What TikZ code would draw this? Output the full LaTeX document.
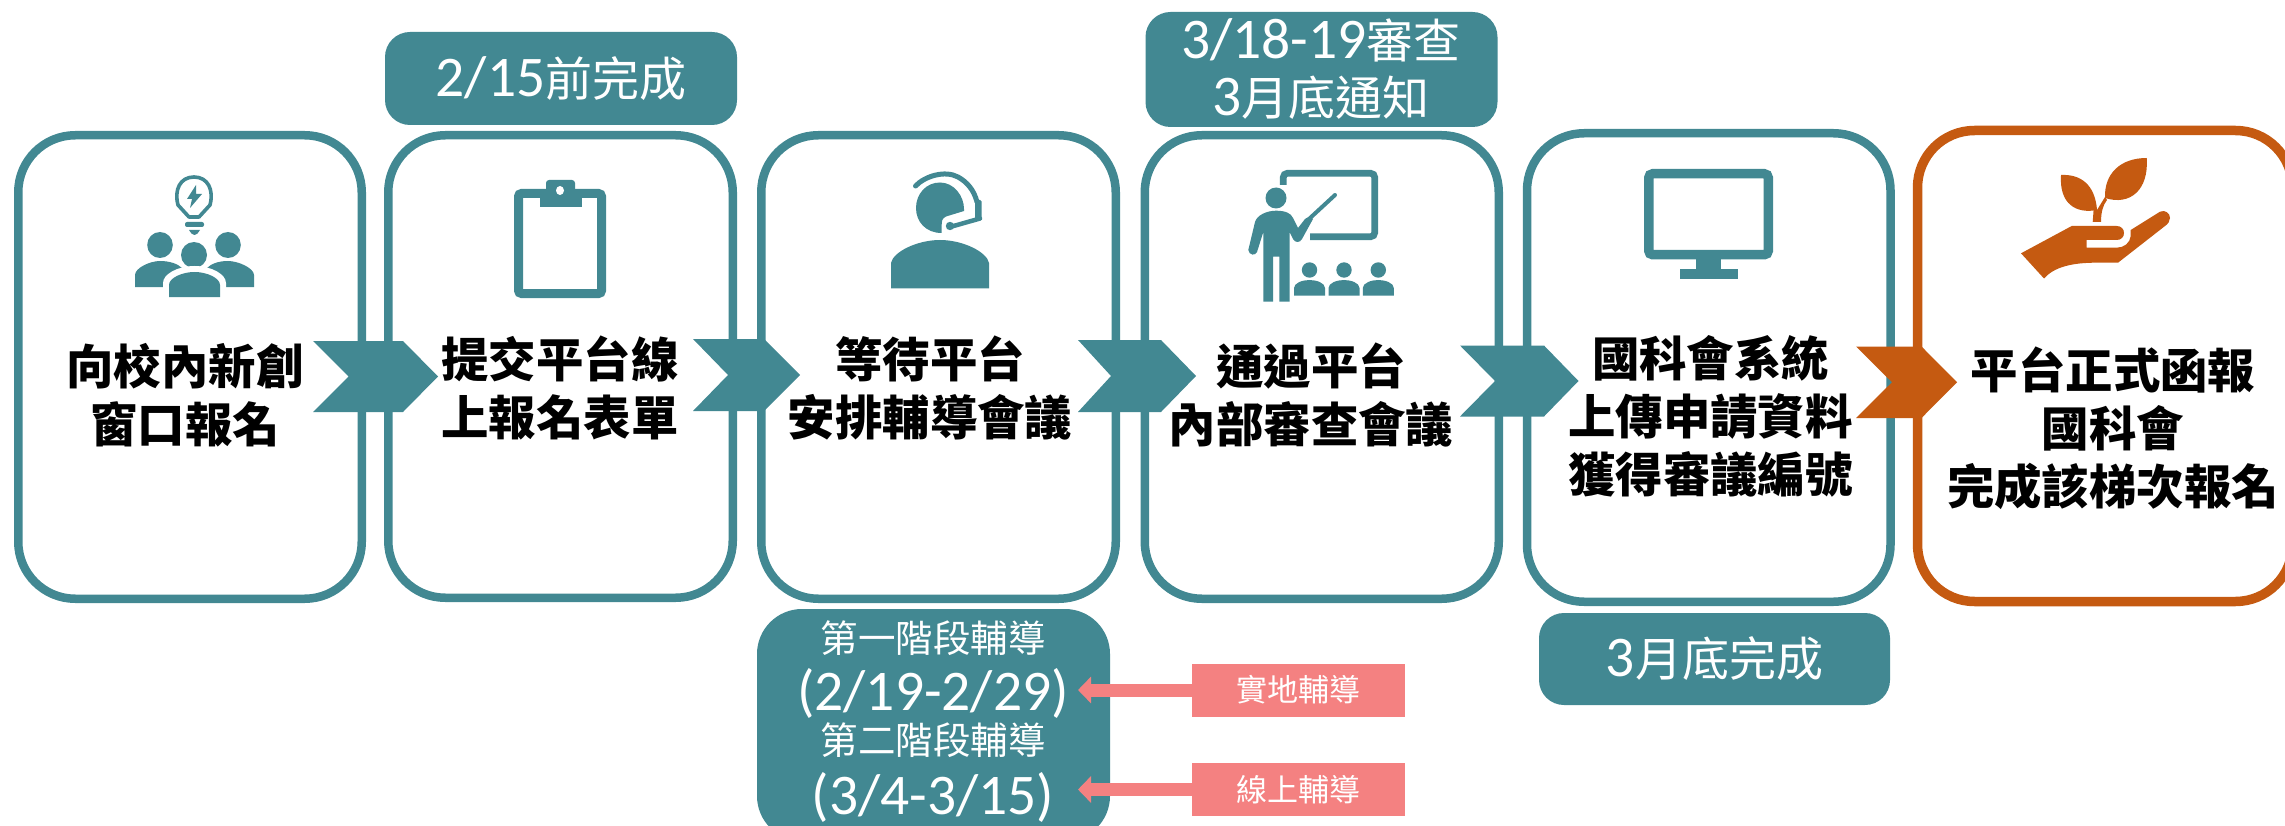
\documentclass[tikz,border=0pt]{standalone}
\usepackage{fontspec}
\setmainfont{Carlito}
\newfontfamily\cjk{Noto Sans CJK TC}
\usetikzlibrary{arrows.meta}
\definecolor{teal1}{HTML}{428892}
\definecolor{orange1}{HTML}{C55A11}
\definecolor{pink1}{HTML}{F48181}
\newcommand{\zhbig}[1]{{\cjk\fontsize{47}{47}\selectfont #1}}
\newcommand{\zhmid}[1]{{\cjk\fontsize{37.5}{37.5}\selectfont #1}}
\tikzset{
  card/.style={draw=teal1,line width=8.5pt,fill=white,rounded corners=57pt,inner sep=0pt,outer sep=0pt},
  cardo/.style={card,draw=orange1,line width=9.5pt},
  tagbox/.style={fill=teal1,rounded corners=25pt,inner sep=0pt,outer sep=0pt,text=white,align=center,font=\fontsize{57.5}{58}\selectfont},
  bigtext/.style={text=black,align=center,inner sep=0pt,font=\cjk\bfseries\fontsize{47.4}{58}\selectfont},
  pinkbox/.style={fill=pink1,inner sep=0pt,outer sep=0pt,text=white,font=\cjk\fontsize{31}{31}\selectfont,minimum width=213pt,minimum height=53pt},
  pinkarrow/.style={draw=pink1,line width=13pt,-{Triangle[width=26pt,length=13pt]}},
  whitetext/.style={text=white,inner sep=0pt},
  icon/.style={fill=teal1,draw=none},
  iconline/.style={draw=teal1,fill=none}
}
% chevron: left x, notch x, shoulder x, tip x, top y, bottom y
\newcommand{\chev}[7]{\fill[#1] (#2,#6) -- (#4,#6) -- (#5,{(#6+#7)/2}) -- (#4,#7) -- (#2,#7) -- (#3,{(#6+#7)/2}) -- cycle;}
\begin{document}
\begin{tikzpicture}[x=1pt,y=-1pt]
\useasboundingbox (0,0) rectangle (2285,826);
\clip (0,0) rectangle (2285,826);
\fill[white] (0,0) rectangle (2285,826);

% cards
\node[card,minimum width=343.5pt,minimum height=463.5pt] (c1) at (190,367) {};
\node[card,minimum width=344.5pt,minimum height=462.5pt] (c2) at (560.5,366.5) {};
\node[card,minimum width=354.5pt,minimum height=463.5pt] (c3) at (938.5,367) {};
\node[card,minimum width=354pt,minimum height=463.5pt] (c4) at (1321.75,367) {};
\node[card,minimum width=363.5pt,minimum height=468.5pt] (c5) at (1708.75,367.5) {};
\node[cardo,minimum width=375pt,minimum height=471pt] (c6) at (2105,366) {};

% tags
\node[tagbox,minimum width=352pt,minimum height=93pt] (t1) at (561,78.5) {2/15\zhbig{前完成}};
\node[tagbox,minimum width=352pt,minimum height=115pt] (t2) at (1321.5,69.5) {};
\node[whitetext,font=\fontsize{57.5}{58}\selectfont] (t2a) at (1321,40) {3/18-19\zhbig{審查}};
\node[whitetext,font=\fontsize{57.5}{58}\selectfont] (t2b) at (1321,98) {3\zhbig{月底通知}};
\node[tagbox,minimum width=351pt,minimum height=92pt] (t3) at (1714.5,659) {3\zhbig{月底完成}};
\node[tagbox,rounded corners=45pt,minimum width=353pt,minimum height=232pt] (t4) at (933.5,725) {};
\node[whitetext,font=\fontsize{37}{37}\selectfont] (t4a) at (933,638) {\zhmid{第一階段輔導}};
\node[whitetext,font=\fontsize{57.5}{58}\selectfont] (t4b) at (933,693) {(2/19-2/29)};
\node[whitetext,font=\fontsize{37}{37}\selectfont] (t4c) at (933,740) {\zhmid{第二階段輔導}};
\node[whitetext,font=\fontsize{57.5}{58}\selectfont] (t4d) at (933,797) {(3/4-3/15)};

% pink labels and arrows
\node[pinkbox] (p1) at (1298.5,690) {實地輔導};
\node[pinkbox] (p2) at (1298.5,789.5) {線上輔導};
\coordinate (a1) at (1078,690);
\coordinate (a2) at (1078,789.5);
\draw[pinkarrow] (p1.west) -- (a1);
\draw[pinkarrow] (p2.west) -- (a2);

% chevrons
\chev{teal1}{313}{348.5}{403}{438}{341}{412}
\chev{teal1}{693}{728}{764}{800}{339}{411}
\chev{teal1}{1078}{1111}{1161}{1196}{340}{412}
\chev{teal1}{1460}{1495}{1544}{1578.5}{345.5}{416.5}
\chev{orange1}{1856}{1892}{1921.5}{1957}{346.5}{418}

% card texts
\node[bigtext] (x1) at (185,395) {向校內新創\\窗口報名};
\node[bigtext] (x2) at (560,388) {提交平台線\\上報名表單};
\node[bigtext] (x3) at (930,388) {等待平台\\安排輔導會議};
\node[bigtext] (x4) at (1311,395) {通過平台\\內部審查會議};
\node[bigtext] (x5) at (1710.5,416) {國科會系統\\上傳申請資料\\獲得審議編號};
\node[bigtext] (x6) at (2113,428.5) {平台正式函報\\國科會\\完成該梯次報名};

% icon 1: bulb and people
\draw[iconline,line width=3.6pt,line join=round] (189,217) -- (178,205) .. controls (174,190) and (180,177) .. (194,177) .. controls (208,177) and (214,190) .. (210,205) -- (199,217) -- cycle;
\fill[teal1] (196,185) -- (187,199) -- (192,199) -- (190,208) -- (202,194) -- (196,194) -- cycle;
\fill[teal1,rounded corners=2pt] (185,222) rectangle (204,227);
\fill[teal1] (189,230) -- (200,230) .. controls (199,233) and (196,235) .. (194.5,235) .. controls (193,235) and (190,233) .. (189,230) -- cycle;
\fill[teal1] (160,245) circle[x radius=12.8pt,y radius=13pt];
\fill[teal1] (228,245) circle[x radius=12.8pt,y radius=13pt];
\fill[teal1] (194,255) circle[x radius=13pt,y radius=13pt];
\fill[teal1] (135,287) -- (135,275) .. controls (135,268) and (150,261) .. (160,261) .. controls (170,261) and (178,264) .. (182,268) -- (170,277) -- (164,287) -- cycle;
\fill[teal1] (254,287) -- (254,275) .. controls (254,268) and (238,261) .. (228,261) .. controls (218,261) and (211,264) .. (207,268) -- (219,277) -- (225,287) -- cycle;
\fill[white] (163,300) -- (163,283) .. controls (163,274) and (178,266) .. (194.5,266) .. controls (211,266) and (226,274) .. (226,283) -- (226,300) -- cycle;
\fill[teal1] (169,297) -- (169,285) .. controls (169,278) and (182,272) .. (194.5,272) .. controls (207,272) and (220,278) .. (220,285) -- (220,297) -- cycle;

% icon 2: clipboard
\draw[iconline,line width=9pt,rounded corners=3pt] (518.5,193.5) rectangle (601.5,293.5);
\fill[teal1,rounded corners=3pt] (546,207) -- (546,180) -- (575,180) -- (575,207) -- cycle;
\fill[teal1] (540,189) rectangle (582,207);
\fill[white] (560,190.5) ellipse[x radius=4pt,y radius=4.5pt];

% icon 3: headset operator
\fill[teal1] (891,288.3) -- (891,263) .. controls (893,252) and (917,240) .. (940,240) .. controls (963,240) and (987,252) .. (989,263) -- (989,288.3) -- cycle;
\fill[teal1] (940,182.5) .. controls (954,182.5) and (964,196) .. (964,209) -- (964,211) -- (946,216.5) .. controls (942,218.5) and (941.7,221) .. (941.7,225) -- (941.7,233) .. controls (926,233) and (916,222) .. (916,208) .. controls (916,194) and (926,182.5) .. (940,182.5) -- cycle;
\draw[teal1,line width=5pt,line cap=round] (915.5,186) .. controls (925,176) and (945,170) .. (958,177) .. controls (967,182) and (974,190) .. (977,202);
\fill[teal1,rounded corners=1.5pt] (975,200) rectangle (981.7,220);
\draw[teal1,line width=4.5pt,line cap=round] (980,218.5) -- (950,227);
\fill[teal1] (950,226) circle[radius=4.2pt];

% icon 4: teacher
\draw[teal1,line width=6.7pt,rounded corners=4pt] (1283.3,185) -- (1283.3,173.3) -- (1374.7,173.3) -- (1374.7,236.7) -- (1310,236.7);
\fill[white] (1276,198) circle[radius=13pt];
\fill[teal1] (1276,198) ellipse[x radius=10.5pt,y radius=10.5pt];
\fill[teal1] (1263.3,301.7) -- (1263.3,232) -- (1257,252) .. controls (1255.5,256) and (1249,255.5) .. (1248.3,250) -- (1255,222) .. controls (1257,215) and (1267,210.7) .. (1276,210.7) .. controls (1285,210.7) and (1291,213) .. (1293,218) -- (1298,228) -- (1305,219) .. controls (1307,217) and (1311,216.5) .. (1313,219) -- (1302,239) .. controls (1300,243) and (1295,243) .. (1293,239) -- (1289.5,232) -- (1289.5,301.7) -- (1279.3,301.7) -- (1279.3,256.7) -- (1273,256.7) -- (1273,301.7) -- cycle;
\draw[teal1,line width=4pt,line cap=round] (1309,219) -- (1335,195);
\foreach \px in {1309.5,1344,1378.3}{
  \fill[teal1] (\px,270) circle[radius=7.7pt];
  \fill[teal1] (\px-15.5,295.7) -- (\px-15.5,288) .. controls (\px-15.5,283) and (\px-7,280) .. (\px,280) .. controls (\px+7,280) and (\px+15.5,283) .. (\px+15.5,288) -- (\px+15.5,295.7) -- cycle;
}

% icon 5: monitor
\draw[iconline,line width=9.5pt,rounded corners=4pt] (1648.75,173.75) rectangle (1768.25,254.75);
\fill[teal1] (1696,259) rectangle (1721,270);
\fill[teal1] (1680,269) rectangle (1738,279);

% icon 6: plant in hand
\fill[orange1] (2061,175) .. controls (2080,174) and (2095,184) .. (2097,210) .. controls (2076,214) and (2059,204) .. (2061,175) -- cycle;
\fill[orange1] (2146.7,158) .. controls (2120,158) and (2104,174) .. (2105,198) .. controls (2130,206) and (2149,190) .. (2146.7,158) -- cycle;
\fill[orange1] (2092.7,222) -- (2094,204) -- (2097,210) -- (2105,197) -- (2107,200) .. controls (2103,205) and (2101,212) .. (2101,222) -- cycle;
\fill[orange1] (2021,253.3) -- (2071.7,226) -- (2116.7,226) .. controls (2121,226) and (2124,229) .. (2124,233) .. controls (2124,237) and (2121,240) .. (2116.7,240) -- (2086.7,240) -- (2086.7,247.7) -- (2116.7,247.7) .. controls (2124,247.7) and (2130,243) .. (2130.7,236) -- (2130.7,230) -- (2160,211.7) .. controls (2165,209.5) and (2170,213) .. (2170,218) .. controls (2170,221) and (2168,224) .. (2165,226) -- (2118,262.7) -- (2096,262.7) .. controls (2072,262.7) and (2054,267) .. (2044,278.5) -- cycle;
\end{tikzpicture}
\end{document}
